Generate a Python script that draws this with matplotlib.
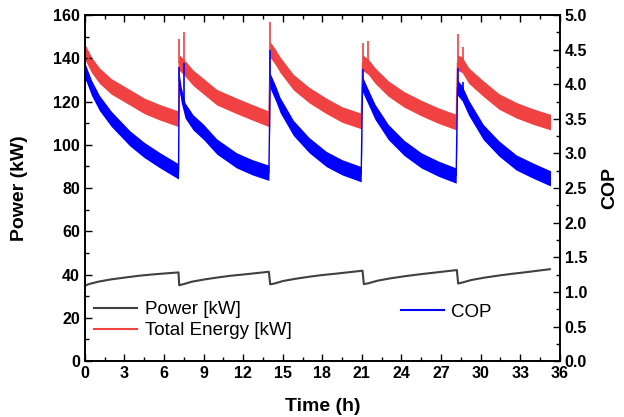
import numpy as np
import matplotlib
matplotlib.use("Agg")
import matplotlib.pyplot as plt
from matplotlib.ticker import MultipleLocator

plt.rcParams["font.family"] = ["Liberation Sans", "DejaVu Sans"]

# Total energy [kW] (left axis), centre of the noisy band, five cycles
t_energy = [0.0, 0.5, 1.1, 2.0, 3.4, 4.5, 5.7, 7.1,
            7.15, 7.5, 8.2, 9.0, 10.0, 11.5, 12.7, 13.95,
            14.05, 14.4, 14.8, 15.8, 17.0, 18.3, 19.5, 20.95,
            21.05, 21.5, 22.0, 23.0, 24.2, 25.5, 26.8, 28.15,
            28.25, 28.6, 29.1, 30.2, 31.4, 32.7, 34.0, 35.3]
energy = [143, 137, 132, 127, 122, 118, 115, 112,
          138, 136, 131, 127, 122, 118, 115, 112,
          144, 141, 137, 129, 123, 118, 114, 111,
          138, 136, 132, 126, 121, 117, 113.5, 110.5,
          138, 137, 132, 126, 120, 116, 113, 110.5]
energy_spike_t = [0.0, 7.15, 7.5, 14.05, 21.05, 21.5, 28.25, 28.7]
energy_spike_top = [152, 149, 152, 157, 147, 148, 151, 145]

# COP (right axis)
t_cop = [0.0, 0.5, 1.1, 2.0, 3.4, 4.5, 5.7, 7.1,
         7.15, 7.3, 7.6, 8.2, 9.0, 10.0, 11.5, 12.7, 13.95,
         14.05, 14.5, 14.8, 15.8, 17.0, 18.3, 19.5, 20.95,
         21.05, 21.4, 22.0, 23.0, 24.2, 25.5, 26.8, 28.15,
         28.25, 28.6, 29.1, 30.2, 31.4, 32.7, 34.0, 35.3]
cop = [4.2, 3.95, 3.73, 3.5, 3.22, 3.05, 2.9, 2.74,
       4.05, 3.85, 3.62, 3.45, 3.31, 3.1, 2.9, 2.8, 2.72,
       4.05, 3.85, 3.7, 3.37, 3.12, 2.92, 2.8, 2.7,
       4.0, 3.85, 3.6, 3.31, 3.08, 2.9, 2.78, 2.68,
       3.95, 3.87, 3.66, 3.31, 3.07, 2.87, 2.75, 2.64]
cop_spike_t = [0.0, 7.15, 7.5, 14.05, 21.05, 28.25, 28.7]
cop_spike_top = [4.33, 4.25, 4.3, 4.5, 4.22, 4.24, 4.03]

# Power [kW] (left axis)
t_power = [0.0, 0.3, 1.0, 2.0, 3.0, 4.0, 5.0, 6.0, 7.1,
           7.15, 7.5, 8.1, 9.1, 10.1, 11.1, 12.1, 13.95,
           14.05, 14.4, 15.0, 16.0, 17.0, 18.0, 19.0, 21.05,
           21.15, 21.5, 22.2, 23.2, 24.2, 25.2, 26.2, 28.2,
           28.3, 28.6, 29.3, 30.3, 31.3, 32.3, 33.3, 35.25]
power = [34.8, 35.6, 36.7, 37.8, 38.6, 39.4, 40.0, 40.5, 41.0,
         35.1, 35.6, 36.7, 37.8, 38.7, 39.5, 40.1, 41.3,
         35.5, 35.9, 37.0, 38.1, 39.0, 39.8, 40.4, 41.8,
         35.6, 36.0, 37.2, 38.3, 39.2, 40.0, 40.7, 42.1,
         35.9, 36.3, 37.5, 38.6, 39.5, 40.3, 41.0, 42.5]

RED = "#f04242"
BLUE = "#0000ff"
GREY = "#404040"

fig = plt.figure(figsize=(6.24, 4.17), dpi=100)
ax = fig.add_axes([0.136, 0.134, 0.761, 0.83])
ax2 = ax.twinx()

# noisy bands drawn as filled envelopes around the centre values
ax.fill_between(t_energy, np.array(energy) - 3.6, np.array(energy) + 3.6,
                color=RED, lw=0)
ax.plot(t_energy, energy, color=RED, lw=1)
ax.vlines(energy_spike_t, np.interp(energy_spike_t, t_energy, energy),
          energy_spike_top, color=RED, lw=1.2)
l_pow, = ax.plot(t_power, power, color=GREY, lw=1.5, label="Power [kW]")
l_en, = ax.plot([], [], color=RED, lw=1.5, label="Total Energy [kW]")

ax2.fill_between(t_cop, np.array(cop) - 0.11, np.array(cop) + 0.11,
                 color=BLUE, lw=0)
ax2.plot(t_cop, cop, color=BLUE, lw=1)
ax2.vlines(cop_spike_t, np.interp(cop_spike_t, t_cop, cop),
           cop_spike_top, color=BLUE, lw=1.2)
l_cop, = ax2.plot([], [], color=BLUE, lw=1.5, label="COP")

ax.set_xlim(0, 36)
ax.set_ylim(0, 160)
ax2.set_ylim(0, 5.0)
ax.xaxis.set_major_locator(MultipleLocator(3))
ax.xaxis.set_minor_locator(MultipleLocator(1.5))
ax.yaxis.set_major_locator(MultipleLocator(20))
ax.yaxis.set_minor_locator(MultipleLocator(10))
ax2.yaxis.set_major_locator(MultipleLocator(0.5))
ax2.yaxis.set_minor_locator(MultipleLocator(0.25))
ax2.yaxis.set_major_formatter(plt.FormatStrFormatter("%.1f"))

for a in (ax, ax2):
    a.tick_params(which="major", direction="in", length=5, width=1,
                  labelsize=11.5)
    a.tick_params(which="minor", direction="in", length=3, width=1)
    for lab in a.get_xticklabels() + a.get_yticklabels():
        lab.set_fontweight("bold")
    for s in a.spines.values():
        s.set_linewidth(1.2)
ax.tick_params(which="both", top=True)

ax.set_xlabel("Time (h)", fontsize=14, fontweight="bold", labelpad=12)
ax.set_ylabel("Power (kW)", fontsize=14, fontweight="bold", labelpad=18)
ax2.set_ylabel("COP", fontsize=14, fontweight="bold", labelpad=10)

ax.legend(handles=[l_pow, l_en], loc="center left",
          bbox_to_anchor=(0.02, 0.118), frameon=False, fontsize=13.5,
          handlelength=2.3, handletextpad=0.4, labelspacing=0.2,
          borderpad=0, borderaxespad=0)
ax2.legend(handles=[l_cop], loc="center left", bbox_to_anchor=(0.665, 0.142),
           frameon=False, fontsize=13.5, handlelength=2.3, handletextpad=0.4,
           borderpad=0, borderaxespad=0)

fig.savefig("out.png", dpi=100)
